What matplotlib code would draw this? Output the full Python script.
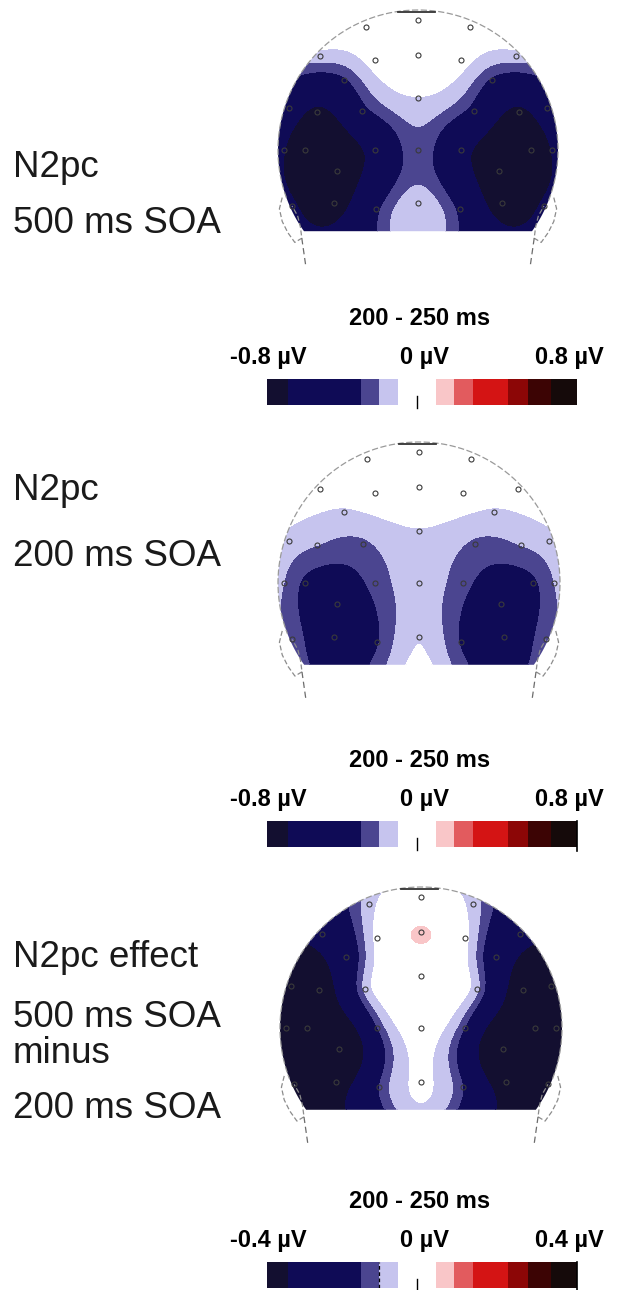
import numpy as np
import matplotlib
matplotlib.use("Agg")
import matplotlib.pyplot as plt
from matplotlib.colors import ListedColormap, BoundaryNorm
from matplotlib.cm import ScalarMappable
from matplotlib.patches import Polygon

plt.rcParams['font.family'] = ['Liberation Sans', 'DejaVu Sans']

# ---------------------------------------------------------------- data
electrodes = ['Fz', 'F3', 'F4',
              'FC5', 'C3', 'Cz', 'C4', 'FC6',
              'CP5', 'CP6', 'CPz',
              'T7', 'TP7', 'P1', 'P2', 'TP8', 'T8',
              'P9', 'P7', 'P5', 'PO3', 'POz', 'PO4', 'P6', 'P8', 'P10',
              'PO9', 'PO7', 'O1', 'Oz', 'O2', 'PO8', 'PO10',
              'I1', 'Iz', 'I2']
# posterior-view projection of the electrode sites (head radius = 1)
elec_x = [0.00, -0.37, 0.37,
          -0.70, -0.31, 0.00, 0.31, 0.70,
          -0.53, 0.53, 0.00,
          -0.92, -0.72, -0.40, 0.40, 0.72, 0.92,
          -0.96, -0.81, -0.58, -0.31, 0.00, 0.31, 0.58, 0.81, 0.96,
          -0.90, -0.60, -0.30, 0.00, 0.30, 0.60, 0.90,
          -0.45, 0.00, 0.45]
elec_y = [0.93, 0.88, 0.88,
          0.67, 0.64, 0.68, 0.64, 0.67,
          0.50, 0.50, 0.37,
          0.30, 0.27, 0.28, 0.28, 0.27, 0.30,
          0.00, 0.00, -0.15, 0.00, 0.00, 0.00, -0.15, 0.00, 0.00,
          -0.40, -0.38, -0.42, -0.38, -0.42, -0.38, -0.40,
          -0.75, -0.72, -0.75]

# mean amplitude 200-250 ms (µV)
amp_500 = [0.00, -0.03, -0.03,
           -0.17, -0.08, -0.02, -0.08, -0.17,
           -0.34, -0.34, -0.13,
           -0.52, -0.75, -0.38, -0.38, -0.75, -0.52,
           -0.68, -0.84, -0.88, -0.60, -0.25, -0.60, -0.88, -0.84, -0.68,
           -0.66, -0.82, -0.36, -0.16, -0.36, -0.82, -0.66,
           -0.45, -0.16, -0.45]
amp_200 = [-0.01, -0.02, -0.02,
           -0.06, -0.05, -0.04, -0.05, -0.06,
           -0.14, -0.14, -0.13,
           -0.16, -0.22, -0.24, -0.24, -0.22, -0.16,
           -0.22, -0.34, -0.43, -0.28, -0.17, -0.28, -0.43, -0.34, -0.22,
           -0.25, -0.45, -0.33, -0.13, -0.33, -0.45, -0.25,
           -0.30, -0.06, -0.30]
amp_diff = [-0.03, -0.085, -0.085,
            -0.30, -0.045, 0.042, -0.045, -0.30,
            -0.25, -0.25, -0.02,
            -0.38, -0.42, -0.10, -0.10, -0.42, -0.38,
            -0.38, -0.42, -0.56, -0.16, -0.03, -0.16, -0.56, -0.42, -0.38,
            -0.37, -0.42, -0.16, -0.055, -0.16, -0.42, -0.37,
            -0.35, -0.11, -0.35]

# colour scale: bin edges as a fraction of the scale maximum
scale_edges = [-1.0, -0.865, -0.394, -0.277, -0.155, 0.090,
               0.206, 0.329, 0.555, 0.684, 0.832, 1.0]
scale_colors = ['#130f30', '#0f0b56', '#4b4590', '#c6c4ee', '#ffffff',
                '#f9c6c8', '#e25b5e', '#d41414', '#8c0606', '#3c0404', '#150a0a']

panel_titles = [['N2pc', '500 ms SOA'],
                ['N2pc', '200 ms SOA'],
                ['N2pc effect', '500 ms SOA', 'minus', '200 ms SOA']]
panel_scale = [0.8, 0.8, 0.4]
window_label = '200 - 250 ms'

# ---------------------------------------------------------------- layout (pixels)
W, H = 618, 1290
fig = plt.figure(figsize=(W / 100, H / 100), dpi=100)


def px_rect(left, top, w, h):
    return [left / W, 1 - (top + h) / H, w / W, h / H]


head_centers = [(418, 150), (419, 583), (421, 1028)]
head_radius = [140, 141, 141]
bar_tops = [379, 821, 1262]
title_baselines = [[177, 233], [500, 566], [967, 1027, 1063, 1118]]

cmap = ListedColormap(scale_colors)


def thin_plate(xs, ys, vs, gx, gy):
    xs, ys, vs = map(np.asarray, (xs, ys, vs))
    n = len(xs)
    d = np.hypot(xs[:, None] - xs[None, :], ys[:, None] - ys[None, :])
    K = np.where(d > 0, d ** 2 * np.log(np.maximum(d, 1e-12)), 0.0)
    P = np.column_stack([np.ones(n), xs, ys])
    A = np.zeros((n + 3, n + 3))
    A[:n, :n] = K
    A[:n, n:] = P
    A[n:, :n] = P.T
    sol = np.linalg.solve(A, np.concatenate([vs, np.zeros(3)]))
    w, a = sol[:n], sol[n:]
    dg = np.hypot(gx[..., None] - xs, gy[..., None] - ys)
    Kg = np.where(dg > 0, dg ** 2 * np.log(np.maximum(dg, 1e-12)), 0.0)
    return Kg @ w + a[0] + a[1] * gx + a[2] * gy


chord = -0.58
t0 = np.arcsin(chord)
arc_t = np.linspace(t0, np.pi - t0, 300)
scalp_outline = np.column_stack([np.cos(arc_t), np.sin(arc_t)])

gx, gy = np.meshgrid(np.linspace(-1.05, 1.05, 321), np.linspace(-0.7, 1.05, 281))

ear_x = [-0.97, -0.99, -0.97, -0.93, -0.88, -0.83, -0.84, -0.86, -0.90]
ear_y = [-0.34, -0.42, -0.51, -0.59, -0.66, -0.63, -0.55, -0.47, -0.40]
neck_x = [-0.83, -0.80]
neck_y = [-0.63, -0.84]

for k, amps in enumerate([amp_500, amp_200, amp_diff]):
    cx, cy = head_centers[k]
    R = head_radius[k]
    vmax = panel_scale[k]
    ax = fig.add_axes(px_rect(cx - 1.15 * R, cy - 1.1 * R, 2.3 * R, 2.05 * R))
    ax.set_xlim(-1.15, 1.15)
    ax.set_ylim(-0.95, 1.1)
    ax.axis('off')

    levels = np.array(scale_edges) * vmax
    norm = BoundaryNorm(levels, cmap.N)
    field = thin_plate(elec_x, elec_y, amps, gx, gy)
    field = np.clip(field, -vmax * 0.999, vmax * 0.999)
    cs = ax.contourf(gx, gy, field, levels=levels, cmap=cmap, norm=norm)
    clip = Polygon(scalp_outline, closed=True, fill=False, edgecolor='none',
                   transform=ax.transData)
    ax.add_patch(clip)
    cs.set_clip_path(clip)

    # head outline, nose mark, ears and neck
    ht = np.linspace(np.arcsin(-0.36), np.pi - np.arcsin(-0.36), 300)
    ax.plot(np.cos(ht), np.sin(ht), color='#9a9a9a', lw=0.9, ls=(0, (5, 2)))
    ax.plot([-0.14, 0.12], [0.985, 0.985], color='#333333', lw=1.3)
    for s in (-1, 1):
        ax.plot(s * np.array(ear_x), ear_y, color='#8c8c8c', lw=0.9, ls=(0, (4, 2)))
        ax.plot(s * np.array(neck_x), neck_y, color='#6c6c6c', lw=0.9, ls=(0, (5, 3)))

    vis = [i for i, yv in enumerate(elec_y) if yv > -0.5]
    ax.plot(np.array(elec_x)[vis], np.array(elec_y)[vis], 'o', ms=3.6,
            mfc='none', mec='#3a3a3a', mew=0.8)

    # colour bar
    top = bar_tops[k]
    cax = fig.add_axes(px_rect(267, top, 310, 26))
    cb = fig.colorbar(ScalarMappable(norm=norm, cmap=cmap), cax=cax,
                      orientation='horizontal', spacing='proportional')
    cb.outline.set_visible(False)
    cb.set_ticks([])
    cb.minorticks_off()
    cax.tick_params(which='both', length=0, labelbottom=False)
    zero_mark = -0.032 * vmax
    cax.plot([zero_mark, zero_mark], [-0.12, 0.35], color='k', lw=1.0, clip_on=False)
    if k > 0:
        cax.plot([vmax, vmax], [-0.15, 1.0], color='k', lw=1.2, clip_on=False)
    if k == 2:
        edge = scale_edges[3] * vmax
        cax.plot([edge, edge], [0.0, 1.0], color='k', lw=0.9, ls=(0, (3, 2)))

    lab = f'{vmax:.1f}'
    fig.text(420 / W, 1 - (top - 54) / H, window_label, ha='center',
             va='baseline', fontsize=17, fontweight='bold')
    fig.text(307 / W, 1 - (top - 15) / H, f'-{lab} µV', ha='right',
             va='baseline', fontsize=17, fontweight='bold')
    fig.text(424 / W, 1 - (top - 15) / H, '0 µV', ha='center',
             va='baseline', fontsize=17, fontweight='bold')
    fig.text(535 / W, 1 - (top - 15) / H, f'{lab} µV', ha='left',
             va='baseline', fontsize=17, fontweight='bold')

    for line, base in zip(panel_titles[k], title_baselines[k]):
        fig.text(13 / W, 1 - base / H, line, ha='left', va='baseline',
                 fontsize=26.5, color='#1a1a1a')

fig.savefig('out.png', dpi=100, facecolor='white')
